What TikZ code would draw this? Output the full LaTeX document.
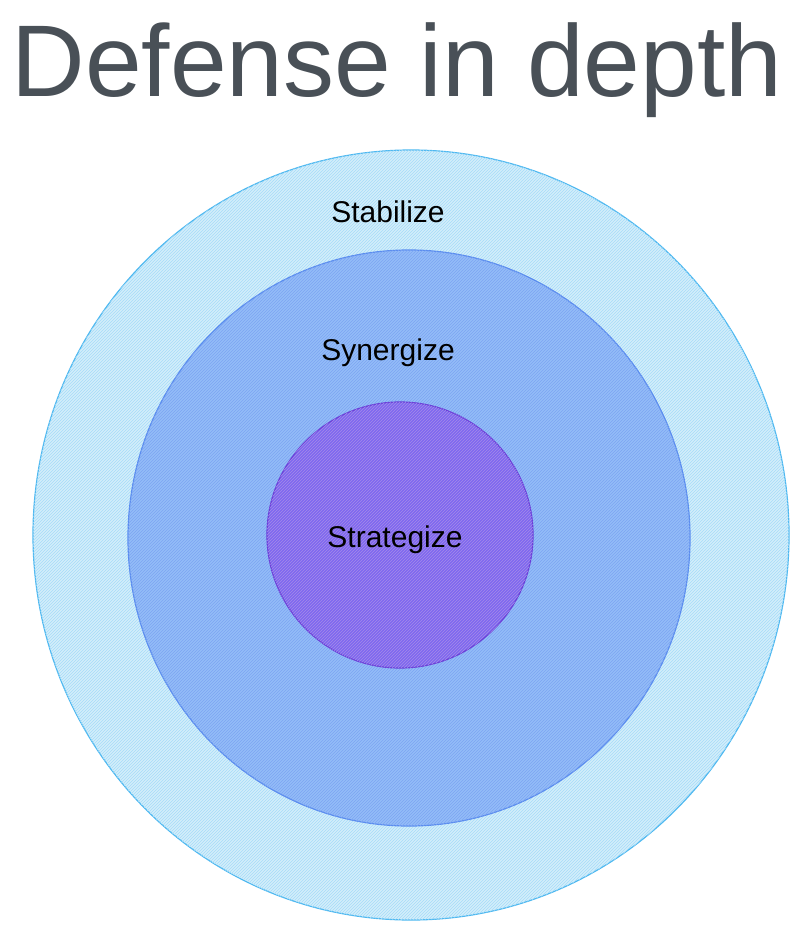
\documentclass[tikz,border=0pt]{standalone}
\usepackage{fontspec}
\setmainfont{Liberation Sans}
\usetikzlibrary{patterns}
\definecolor{ttl}{HTML}{495057}
\definecolor{outS}{HTML}{4DB8F0}
\definecolor{outF}{HTML}{D3EEFB}
\definecolor{midS}{HTML}{5B8DEF}
\definecolor{midF}{HTML}{93BDF8}
\definecolor{inS}{HTML}{6A3FD8}
\definecolor{inF}{HTML}{7E68F0}
\tikzset{ring/.style={line width=1.2pt},
lbl/.style={font=\fontsize{30}{34}\selectfont, text=black}}
\begin{document}
\begin{tikzpicture}[x=1pt,y=-1pt]
\useasboundingbox (0,0) rectangle (800,931);
\node (title) at (397,70) {\resizebox{770pt}{!}{\color{ttl}Defense in depth}};
\draw[ring,draw=outS,fill=outF] (411,535) ellipse [x radius=378,y radius=385];
\path[pattern=north east lines,pattern color=outS!50] (411,535) ellipse [x radius=378,y radius=385];
\draw[ring,draw=midS,fill=midF] (409,538) ellipse [x radius=281,y radius=288];
\path[pattern=north east lines,pattern color=midS!80] (409,538) ellipse [x radius=281,y radius=288];
\draw[ring,draw=inS,fill=inF] (400,535) circle [radius=133];
\path[pattern=north east lines,pattern color=inS!60] (400,535) circle [radius=133];
\node[lbl] (stab) at (388,212) {Stabilize};
\node[lbl] (syn) at (388,353) {Synergize};
\node[lbl] (strat) at (395,540) {Strategize};
\end{tikzpicture}
\end{document}
